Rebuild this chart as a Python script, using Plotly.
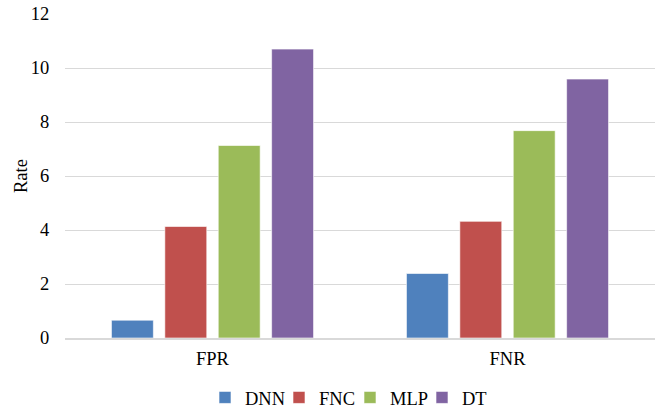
import plotly.graph_objects as go

categories = ["FPR", "FNR"]
series_names = ["DNN", "FNC", "MLP", "DT"]
dnn = [0.66, 2.39]
fnc = [4.13, 4.32]
mlp = [7.13, 7.68]
dt = [10.70, 9.59]
colors = ["#4F81BD", "#C0504D", "#9BBB59", "#8064A2"]
y_ticks = [0, 2, 4, 6, 8, 10, 12]

W, H = 662, 412
L, R, T, B = 65, 7, 13.5, 74
pw, ph = W - L - R, H - T - B

fam = "Liberation Serif, Times New Roman, serif"
legend_left_px = [205, 279, 350, 422]  # pixel x of each legend box's left edge

fig = go.Figure()
layout_legends = {}
for i, (name, vals, col) in enumerate(zip(series_names, [dnn, fnc, mlp, dt], colors)):
    lg = "legend" if i == 0 else f"legend{i+1}"
    fig.add_trace(go.Bar(x=categories, y=vals, name=name, marker_color=col,
                         marker_line=dict(color="rgba(255,255,255,0.6)", width=1),
                         legend=lg, showlegend=True))
    layout_legends[lg] = dict(
        x=(legend_left_px[i] - L) / pw, xanchor="left",
        y=(T + ph - 398) / ph, yanchor="middle",
        orientation="h", bgcolor="rgba(0,0,0,0)",
        font=dict(size=18.5, family=fam, color="#000"),
    )

fig.update_layout(
    width=W, height=H,
    margin=dict(l=L, r=R, t=T, b=B, autoexpand=False),
    paper_bgcolor="white", plot_bgcolor="white",
    barmode="group", bargap=0.276, bargroupgap=0.215,
    font=dict(family=fam, size=18.5, color="#000"),
    xaxis=dict(showline=True, linecolor="#D9D9D9", linewidth=1.5, ticks="outside",
               tickcolor="rgba(0,0,0,0)", ticklen=3, tickfont=dict(size=18.5),
               automargin=False),
    yaxis=dict(range=[0, 12], tickvals=y_ticks, showgrid=True, gridcolor="#D9D9D9",
               gridwidth=1.3, zeroline=False, showline=False, ticks="outside",
               tickcolor="rgba(0,0,0,0)", ticklen=11, tickfont=dict(size=18.5),
               automargin=False),
    annotations=[dict(text="Rate", xref="paper", yref="paper",
                      x=(21 - L) / pw, y=0.5, xanchor="center", yanchor="middle",
                      textangle=-90, showarrow=False,
                      font=dict(size=18.5, family=fam, color="#000"))],
    **layout_legends,
)
fig.write_html("out.html", config={"displayModeBar": False},
               post_script="document.body.style.margin='0';document.body.style.overflow='hidden';")
